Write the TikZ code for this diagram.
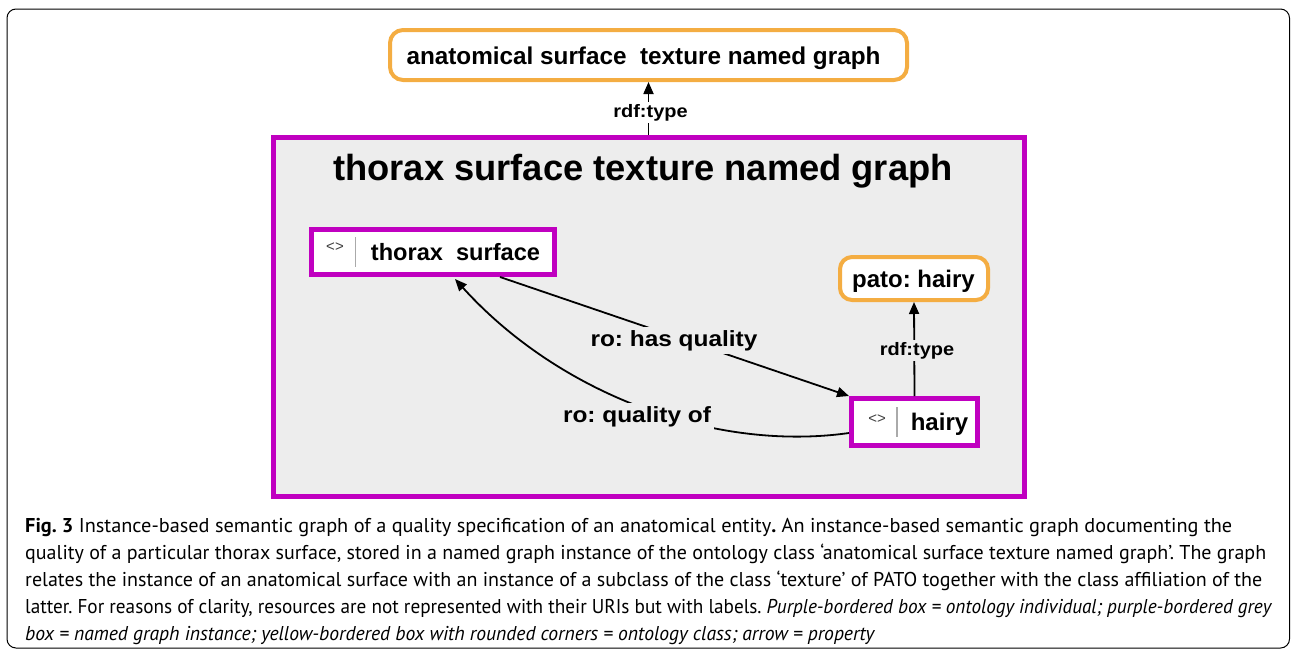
\documentclass[tikz,border=0pt]{standalone}
\usepackage{fontspec}
\usepackage{graphicx}
\setmainfont{Liberation Sans}
\newfontfamily\lblfont[FakeStretch=1.11]{Liberation Sans}
\newfontfamily\capfont{PT Sans}
\frenchspacing
\usetikzlibrary{arrows.meta,calc}
\definecolor{indiv}{RGB}{192,0,192}
\definecolor{classcol}{RGB}{244,173,66}
\definecolor{graphbg}{RGB}{237,237,237}
\definecolor{sepgray}{RGB}{170,170,170}
% set one caption line to a given width, keeping its height
\newcommand{\capwidth}[2]{\resizebox{#1}{\height}{#2}}
\tikzset{
  classbox/.style={draw=classcol, line width=4pt, rounded corners=13pt, fill=white, inner sep=0pt},
  indivbox/.style={draw=indiv, line width=5pt, fill=white, inner sep=0pt},
  graphbox/.style={draw=indiv, line width=5pt, fill=graphbg, inner sep=0pt},
  prop/.style={line width=1.8pt, -{Triangle[length=12pt,width=10pt]}},
  boxtext/.style={anchor=base, inner sep=0pt, font=\bfseries\fontsize{24}{26}\selectfont},
  proplabel/.style={anchor=base, inner sep=3pt, fill=graphbg, font=\lblfont\bfseries\fontsize{22}{24}\selectfont},
  typelabel/.style={anchor=base, inner sep=2pt, font=\lblfont\bfseries\fontsize{18}{20}\selectfont},
  iconmark/.style={font=\fontsize{15}{16}\selectfont, text=black!75, inner sep=0pt},
  sepbar/.style={draw=sepgray, line width=1.5pt},
  capline/.style={anchor=base west, inner sep=0pt, font=\capfont\fontsize{20}{27}\selectfont},
}
\begin{document}
\begin{tikzpicture}[x=1pt,y=-1pt]
\useasboundingbox (0,0) rectangle (1292,651);
% figure frame
\draw[line width=1pt, rounded corners=9pt] (7,9) rectangle (1289.5,648);

% named graph instance
\node[graphbox, minimum width=751pt, minimum height=359pt] (graph) at (649,317) {};
\node[anchor=base, inner sep=0pt, font=\bfseries\fontsize{36.3}{38}\selectfont] (gtitle) at (643,180) {thorax surface texture named graph};

% class of the named graph
\node[classbox, minimum width=517pt, minimum height=50pt] (gclass) at (648.5,55) {};
\node[boxtext, font=\bfseries\fontsize{24.3}{26}\selectfont] (gclasstxt) at (643.5,64.5) {anatomical surface\ \ texture named graph};

% thorax surface individual
\node[indivbox, minimum width=243pt, minimum height=45pt] (thorax) at (433,252) {};
\node[iconmark] (thoraxicon) at (335,247) {<>};
\draw[sepbar] (355.5,237) -- (355.5,267);
\node[boxtext, font=\bfseries\fontsize{23.6}{26}\selectfont] (thoraxtxt) at (455.5,260) {thorax\ \ surface};

% hairy individual
\node[indivbox, minimum width=126pt, minimum height=47pt] (hairy) at (914.5,422) {};
\node[iconmark] (hairyicon) at (877,419) {<>};
\draw[sepbar] (897,407) -- (897,437);
\node[boxtext] (hairytxt) at (939.5,430.5) {hairy};

% PATO class
\node[classbox, minimum width=148pt, minimum height=43pt, rounded corners=12pt] (pato) at (914,278.5) {};
\node[boxtext] (patotxt) at (913.5,287) {pato: hairy};

% rdf:type of the named graph
\draw[prop] (graph.north -| gclass.south) -- (gclass.south);
\node[typelabel, fill=white] (gtype) at (650.5,117) {rdf:type};

% rdf:type of hairy
\draw[prop] (hairy.north) -- (pato.south);
\node[typelabel, fill=graphbg] (htype) at (917,355) {rdf:type};

% ro: has quality
\draw[prop] ([xshift=67pt]thorax.south) -- (hairy.north west);
\node[proplabel] (hasq) at (674,346) {ro: has quality};

% ro: quality of
\draw[prop] ($(hairy.west)+(0,11)$) .. controls (715,452) and (560,395) .. ([xshift=22pt,yshift=-2pt]thorax.south);
\node[proplabel] (qof) at (637,422) {ro: quality of};

% caption
\node[capline] (cap1) at (25,532) {\capwidth{1207pt}{\textbf{Fig. 3} Instance-based semantic graph of a quality specification of an anatomical entity\textbf{.} An instance-based semantic graph documenting the}};
\node[capline] (cap2) at (25,559) {\capwidth{1241pt}{quality of a particular thorax surface, stored in a named graph instance of the ontology class ‘anatomical surface texture named graph’. The graph}};
\node[capline] (cap3) at (25,586) {\capwidth{1237pt}{relates the instance of an anatomical surface with an instance of a subclass of the class ‘texture’ of PATO together with the class affiliation of the}};
\node[capline] (cap4) at (25,613) {\capwidth{1247pt}{latter. For reasons of clarity, resources are not represented with their URIs but with labels. \textit{Purple-bordered box = ontology individual; purple-bordered grey}}};
\node[capline] (cap5) at (25,640) {\capwidth{850pt}{\textit{box = named graph instance; yellow-bordered box with rounded corners = ontology class; arrow = property}}};
\end{tikzpicture}
\end{document}
